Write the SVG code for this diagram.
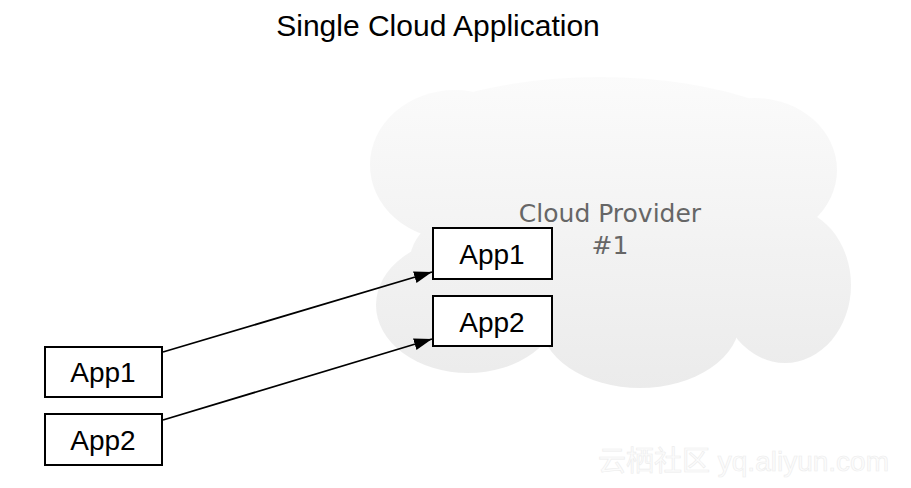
<svg xmlns="http://www.w3.org/2000/svg" width="911" height="488" viewBox="0 0 911 488">
<style>
.box{fill:#fff;stroke:#000;stroke-width:2}
.lbl{font-family:"Liberation Sans",Arial,sans-serif;font-size:28px;fill:#000;text-anchor:middle}
.conn{stroke:#000;stroke-width:1.8;fill:none;marker-end:url(#ah)}
.cl{fill:url(#cg)}
</style>
<defs>
<linearGradient id="cg" gradientUnits="userSpaceOnUse" x1="0" y1="75" x2="0" y2="390">
<stop offset="0" stop-color="#fbfbfb"/>
<stop offset="1" stop-color="#ebebeb"/>
</linearGradient>
<marker id="ah" viewBox="0 0 18 12" refX="18" refY="6" markerWidth="18" markerHeight="12" markerUnits="userSpaceOnUse" orient="auto">
<path d="M0,0 L18,6 L0,12 Z" fill="#000"/>
</marker>
</defs>
<rect width="911" height="488" fill="#fff"/>
<text x="438" y="36" font-family="'Liberation Sans',Arial,sans-serif" font-size="30" text-anchor="middle" fill="#000">Single Cloud Application</text>
<g id="cloud">
<ellipse class="cl" cx="600" cy="165" rx="228" ry="88"/>
<ellipse class="cl" cx="455" cy="165" rx="85" ry="75"/>
<ellipse class="cl" cx="755" cy="170" rx="82" ry="72"/>
<ellipse class="cl" cx="620" cy="260" rx="210" ry="85"/>
<ellipse class="cl" cx="468" cy="305" rx="92" ry="68"/>
<ellipse class="cl" cx="640" cy="320" rx="100" ry="68"/>
<ellipse class="cl" cx="785" cy="285" rx="66" ry="78"/>
<text x="610" y="222" font-family="'DejaVu Sans',sans-serif" font-size="25" fill="#666" text-anchor="middle">Cloud Provider</text>
<text x="610" y="254" font-family="'DejaVu Sans',sans-serif" font-size="25" fill="#666" text-anchor="middle">#1</text>
</g>
<g id="cloud-app1"><rect class="box" x="433" y="228" width="119" height="51"/><text class="lbl" x="492" y="264">App1</text></g>
<g id="cloud-app2"><rect class="box" x="433" y="296" width="119" height="50"/><text class="lbl" x="492" y="332">App2</text></g>
<g id="local-app1"><rect class="box" x="45" y="347" width="117" height="50"/><text class="lbl" x="103" y="382">App1</text></g>
<g id="local-app2"><rect class="box" x="45" y="414" width="117" height="51"/><text class="lbl" x="103" y="450">App2</text></g>
<g id="connectors">
<line class="conn" x1="163" y1="352" x2="432" y2="272"/>
<line class="conn" x1="163" y1="420" x2="432" y2="339"/>
</g>
<text x="598" y="471" font-family="'Liberation Sans','Noto Sans CJK SC',sans-serif" font-size="28" fill="#fcfcfc" stroke="#ececec" stroke-width="0.6">云栖社区 yq.aliyun.com</text>
</svg>
